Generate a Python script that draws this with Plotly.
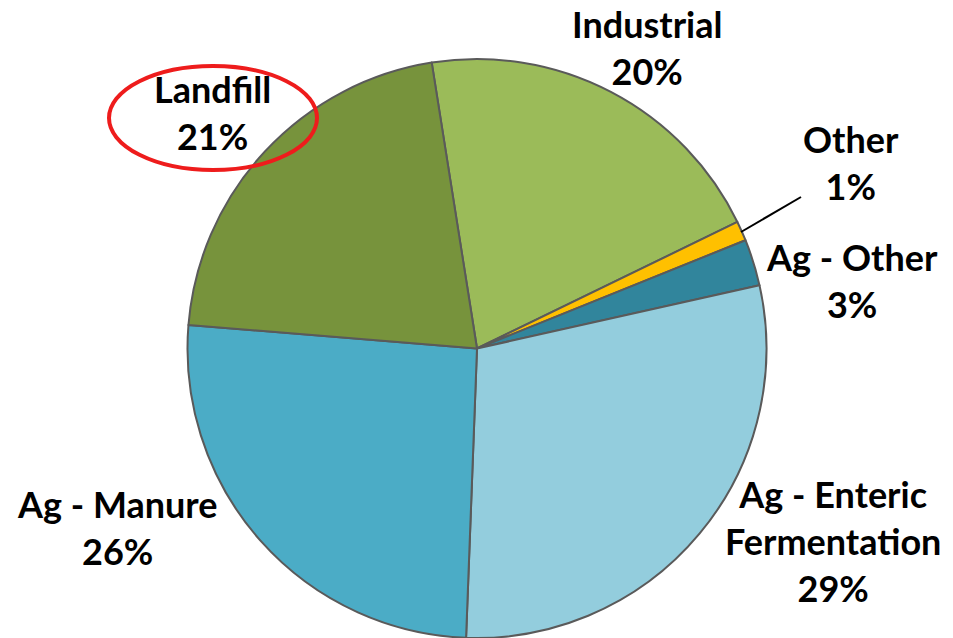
import plotly.graph_objects as go

# Methane emission sources (share of total, %)
labels = ["Industrial", "Other", "Ag - Other", "Ag - Enteric Fermentation", "Ag - Manure", "Landfill"]
label_lines = [["Industrial"], ["Other"], ["Ag - Other"], ["Ag - Enteric", "Fermentation"], ["Ag - Manure"], ["Landfill"]]
values = [20.3, 1.1, 2.6, 29.1, 25.7, 21.2]
colors = ["#9BBB59", "#FFC000", "#31859C", "#93CDDD", "#4BACC6", "#77933C"]

W, H = 953, 638


def px(x):
    return x / W


def py(y):
    return 1 - y / H


fig = go.Figure(go.Pie(
    labels=labels, values=values,
    sort=False, direction="clockwise", rotation=-9,
    marker=dict(colors=colors, line=dict(color="#5a5a5a", width=2)),
    textinfo="none", hoverinfo="label+percent",
    domain=dict(x=[px(186), px(768)], y=[0, py(59)]),
    showlegend=False,
))

# label positions in pixels (centre of text block)
label_pos = [(647, 48), (851, 162), (852, 280), (833, 541), (117, 527), (212, 113)]
total = sum(values)
for lines, v, (x, y) in zip(label_lines, values, label_pos):
    txt = "<br>".join(lines + [f"{round(v / total * 100)}%"])
    fig.add_annotation(
        x=px(x), y=py(y), xref="paper", yref="paper",
        text=txt, showarrow=False, xanchor="center", yanchor="middle",
        borderpad=0,
        font=dict(family="Lato", size=36, color="black", weight="bold"),
    )

# leader line for "Other"
fig.add_shape(type="line", xref="paper", yref="paper",
              x0=px(741), y0=py(232), x1=px(801), y1=py(197),
              line=dict(color="black", width=2))

# red ellipse around Landfill
fig.add_shape(type="circle", xref="paper", yref="paper",
              x0=px(109), y0=py(66), x1=px(317), y1=py(170),
              line=dict(color="#EE1C1C", width=4))

fig.update_layout(
    width=W, height=H,
    margin=dict(l=0, r=0, t=0, b=0),
    paper_bgcolor="white", plot_bgcolor="white",
)
# drop the default 8px body margin so the figure fills the window exactly
fig.write_html("out.html", config={"displayModeBar": False},
               post_script="document.body.style.margin='0';document.body.style.overflow='hidden';")
